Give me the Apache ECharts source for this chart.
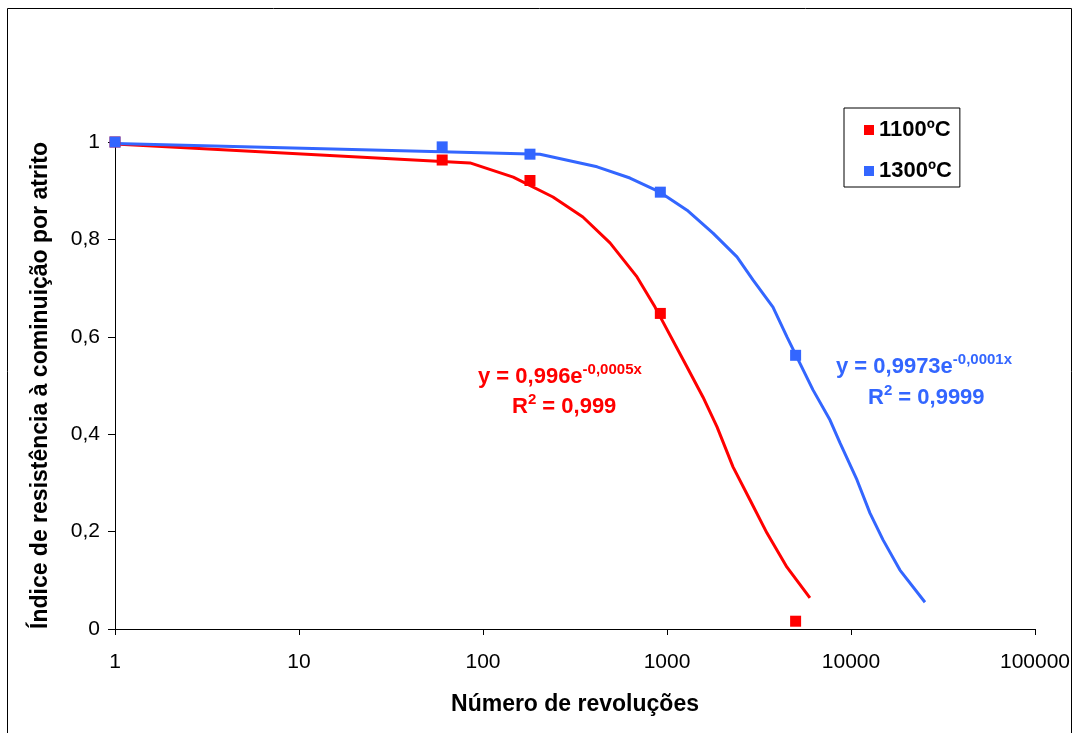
<!DOCTYPE html>
<html>
<head>
<meta charset="utf-8">
<style>
html,body{margin:0;padding:0;background:#fff;}
#chart{width:1077px;height:733px;}
</style>
<script src="https://cdn.jsdelivr.net/npm/echarts@6/dist/echarts.min.js"></script>
</head>
<body>
<div id="chart"></div>
<script>
// ---- data ----
const revolutions = [1, 60, 180, 920, 5000];
const index1100 = [1.0, 0.963, 0.921, 0.648, 0.016];
const index1300 = [1.0, 0.990, 0.975, 0.897, 0.562];

// trend lines
const trend1100X = [1, 85, 146, 240, 349, 490, 687, 861, 1285, 1570, 1870, 2284, 2827, 3494, 4487, 5980];
const trend1100Y = [0.996, 0.957, 0.928, 0.887, 0.846, 0.793, 0.723, 0.661, 0.538, 0.476, 0.415, 0.333, 0.265, 0.197, 0.127, 0.064];
const trend1300X = [1, 204, 417, 629, 916, 1285, 1778, 2400, 2931, 3766, 4487, 6213, 7690, 8714, 10780, 12680, 14930, 18450, 25240];
const trend1300Y = [0.997, 0.975, 0.949, 0.926, 0.897, 0.860, 0.813, 0.764, 0.717, 0.661, 0.600, 0.491, 0.429, 0.382, 0.306, 0.238, 0.183, 0.121, 0.055];

const seriesNames = ['1100ºC', '1300ºC'];
const xTitle = 'Número de revoluções';
const yTitle = 'Índice de resistência à cominuição por atrito';
const eq1100 = ['y = 0,996e', '-0,0005x', 'R', '2', ' = 0,999'];
const eq1300 = ['y = 0,9973e', '-0,0001x', 'R', '2', ' = 0,9999'];

const RED = '#FF0000';
const BLUE = '#3366FF';
const FONT = 'Arial, "Liberation Sans", sans-serif';

const zip = (xs, ys) => xs.map((x, i) => [x, ys[i]]);

const chart = echarts.init(document.getElementById('chart'), null, {renderer: 'canvas'});

const eqRich = (color) => ({
  m: {fontSize: 22, fontWeight: 'bold', fill: color, fontFamily: FONT, lineHeight: 30},
  s: {fontSize: 15, fontWeight: 'bold', fill: color, fontFamily: FONT, verticalAlign: 'top', lineHeight: 30, padding: [0, 0, 12, 0]}
});

chart.setOption({
  animation: false,
  backgroundColor: '#fff',
  textStyle: {fontFamily: FONT},
  grid: {left: 115, right: 42, top: 142, bottom: 104, containLabel: false},
  xAxis: {
    type: 'log', logBase: 10, min: 1, max: 100000,
    name: xTitle, nameLocation: 'middle', nameGap: 64,
    nameTextStyle: {fontSize: 23, fontWeight: 'bold', color: '#000', fontFamily: FONT},
    axisLine: {lineStyle: {color: '#000', width: 1}},
    axisTick: {show: true, length: 6, lineStyle: {color: '#000'}},
    axisLabel: {fontSize: 21, color: '#000', margin: 23, fontFamily: FONT,
      formatter: v => String(Math.round(v))},
    splitLine: {show: false}, minorTick: {show: false}
  },
  yAxis: {
    type: 'value', min: 0, max: 1, interval: 0.2,
    name: yTitle, nameLocation: 'middle', nameGap: 63,
    nameTextStyle: {fontSize: 23, fontWeight: 'bold', color: '#000', fontFamily: FONT},
    axisLine: {show: true, lineStyle: {color: '#000', width: 1}},
    axisTick: {show: true, length: 7, lineStyle: {color: '#000'}},
    axisLabel: {fontSize: 21, color: '#000', margin: 15, fontFamily: FONT,
      formatter: v => (Number.isInteger(v) ? String(v) : v.toFixed(1).replace('.', ','))},
    splitLine: {show: false}
  },
  legend: {
    data: seriesNames,
    orient: 'vertical', left: 844, top: 108,
    borderColor: '#000', borderWidth: 1,
    padding: [11, 8, 5, 20], itemGap: 19,
    itemWidth: 10, itemHeight: 10, icon: 'rect',
    textStyle: {fontSize: 22, fontWeight: 'bold', color: '#000', fontFamily: FONT}
  },
  series: [
    {name: 'trend1100', type: 'line', data: zip(trend1100X, trend1100Y), showSymbol: false, symbol: 'none',
     lineStyle: {color: RED, width: 3}, itemStyle: {color: RED}, z: 2, silent: true},
    {name: 'trend1300', type: 'line', data: zip(trend1300X, trend1300Y), showSymbol: false, symbol: 'none',
     lineStyle: {color: BLUE, width: 3}, itemStyle: {color: BLUE}, z: 2, silent: true},
    {name: seriesNames[0], type: 'scatter', data: zip(revolutions, index1100), symbol: 'rect', symbolSize: 11,
     itemStyle: {color: RED, opacity: 1}, z: 5},
    {name: seriesNames[1], type: 'scatter', data: zip(revolutions, index1300), symbol: 'rect', symbolSize: 11,
     itemStyle: {color: BLUE, opacity: 1}, z: 6}
  ],
  graphic: [
    {type: 'rect', shape: {x: 7.5, y: 8.5, width: 1064, height: 760}, style: {fill: 'none', stroke: '#000', lineWidth: 1}, z: -1, silent: true},
    {type: 'text', left: 478, top: 362, z: 10,
     style: {text: '{m|' + eq1100[0] + '}{s|' + eq1100[1] + '}', rich: eqRich(RED)}},
    {type: 'text', left: 512, top: 392, z: 10,
     style: {text: '{m|' + eq1100[2] + '}{s|' + eq1100[3] + '}{m|' + eq1100[4] + '}', rich: eqRich(RED)}},
    {type: 'text', left: 836, top: 352, z: 10,
     style: {text: '{m|' + eq1300[0] + '}{s|' + eq1300[1] + '}', rich: eqRich(BLUE)}},
    {type: 'text', left: 868, top: 383, z: 10,
     style: {text: '{m|' + eq1300[2] + '}{s|' + eq1300[3] + '}{m|' + eq1300[4] + '}', rich: eqRich(BLUE)}}
  ]
});
</script>
</body>
</html>
